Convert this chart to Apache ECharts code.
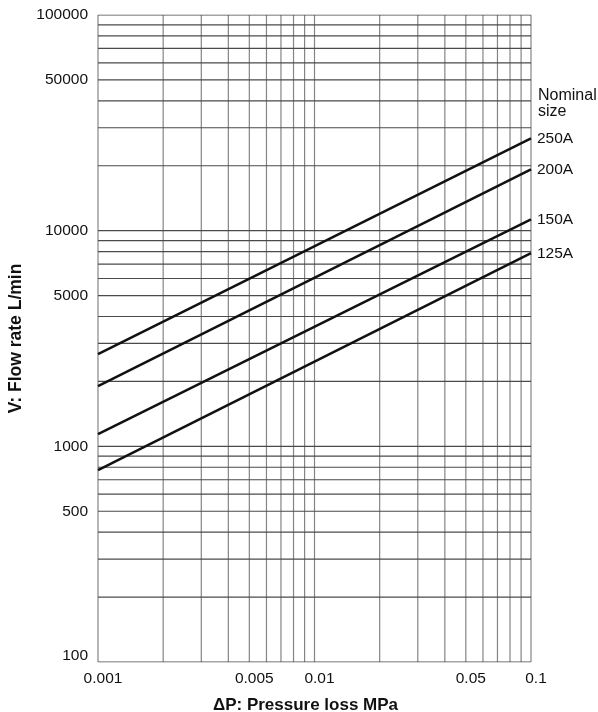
<!DOCTYPE html>
<html>
<head>
<meta charset="utf-8">
<script src="https://cdn.jsdelivr.net/npm/echarts@6/dist/echarts.min.js"></script>
<style>
  html, body { margin: 0; padding: 0; background: #fff; }
  #main { width: 598px; height: 712px; }
</style>
</head>
<body>
<div id="main"></div>
<script>
// data (log-log, straight lines)
var pressure = [0.001, 0.1];
var sizes = ['250A', '200A', '150A', '125A'];
var flow250 = [2675, 26800];
var flow200 = [1900, 19260];
var flow150 = [1140, 11290];
var flow125 = [776, 7860];

var xLabels = [0.001, 0.005, 0.01, 0.05, 0.1];
var yLabels = [100, 500, 1000, 5000, 10000, 50000, 100000];
var xGrid = [0.001, 0.002, 0.003, 0.004, 0.005, 0.006, 0.007, 0.008, 0.009,
             0.01, 0.02, 0.03, 0.04, 0.05, 0.06, 0.07, 0.08, 0.09, 0.1];
var yGrid = [100, 200, 300, 400, 500, 600, 700, 800, 900,
             1000, 2000, 3000, 4000, 5000, 6000, 7000, 8000, 9000,
             10000, 20000, 30000, 40000, 50000, 60000, 70000, 80000, 90000, 100000];

var font = '"Liberation Sans", Arial, sans-serif';
var flows = [flow250, flow200, flow150, flow125];
var xMin = xGrid[0], xMax = xGrid[xGrid.length - 1];
var yMin = yGrid[0], yMax = yGrid[yGrid.length - 1];

function fmt(v) {
  return String(Number(v.toPrecision(3)));
}

function gridLine(pts, color) {
  return {
    type: 'line',
    symbol: 'none',
    silent: true,
    animation: false,
    data: pts,
    lineStyle: { color: color, width: 1.2 },
    z: 1
  };
}

var series = [];
// vertical grid lines
xGrid.forEach(function (v) {
  series.push(gridLine([[v, yMin], [v, yMax]], '#858585'));
});
// horizontal grid lines
yGrid.forEach(function (v) {
  series.push(gridLine([[xMin, v], [xMax, v]], '#4a4a4a'));
});

sizes.forEach(function (name, i) {
  series.push({
    name: name,
    type: 'line',
    symbol: 'none',
    silent: true,
    data: pressure.map(function (p, j) { return [p, flows[i][j]]; }),
    lineStyle: { color: '#111', width: 2.5 },
    endLabel: {
      show: true,
      formatter: '{a}',
      distance: 6,
      color: '#111',
      fontFamily: font,
      fontSize: 15.5
    },
    z: 5
  });
});

var option = {
  animation: false,
  backgroundColor: '#fff',
  grid: { left: 98, right: 67, top: 15, bottom: 50, containLabel: false, outerBoundsMode: 'none' },
  xAxis: {
    type: 'log',
    logBase: 10,
    min: xMin,
    max: xMax,
    name: 'ΔP: Pressure loss MPa',
    nameLocation: 'middle',
    nameGap: 35,
    nameTextStyle: {
      fontFamily: font, fontSize: 17, fontWeight: 'bold', color: '#111',
      padding: [0, 18, 0, 0]
    },
    axisLine: { show: false },
    axisTick: { show: false },
    splitLine: { show: false },
    axisLabel: {
      customValues: xLabels,
      formatter: fmt,
      color: '#111',
      fontFamily: font,
      fontSize: 15.5,
      margin: 9,
      padding: [0, 0, 0, 10]
    }
  },
  yAxis: {
    type: 'log',
    logBase: 10,
    min: yMin,
    max: yMax,
    name: 'V: Flow rate L/min',
    nameLocation: 'middle',
    nameGap: 70,
    nameRotate: 90,
    nameTextStyle: { fontFamily: font, fontSize: 17.5, fontWeight: 'bold', color: '#111' },
    axisLine: { show: false },
    axisTick: { show: false },
    splitLine: { show: false },
    axisLabel: {
      customValues: yLabels,
      formatter: function (v) {
        var s = fmt(v);
        return v <= yMin ? '{low|' + s + '}' : s;
      },
      rich: {
        low: { fontFamily: font, fontSize: 15.5, color: '#111', padding: [0, 0, 12, 0] }
      },
      color: '#111',
      fontFamily: font,
      fontSize: 15.5,
      margin: 10
    }
  },
  graphic: [{
    type: 'text',
    left: 538,
    top: 88,
    style: {
      text: 'Nominal\nsize',
      fill: '#111',
      font: '16px ' + font,
      lineHeight: 16
    }
  }],
  series: series
};

var chart = echarts.init(document.getElementById('main'));
chart.setOption(option);
</script>
</body>
</html>
